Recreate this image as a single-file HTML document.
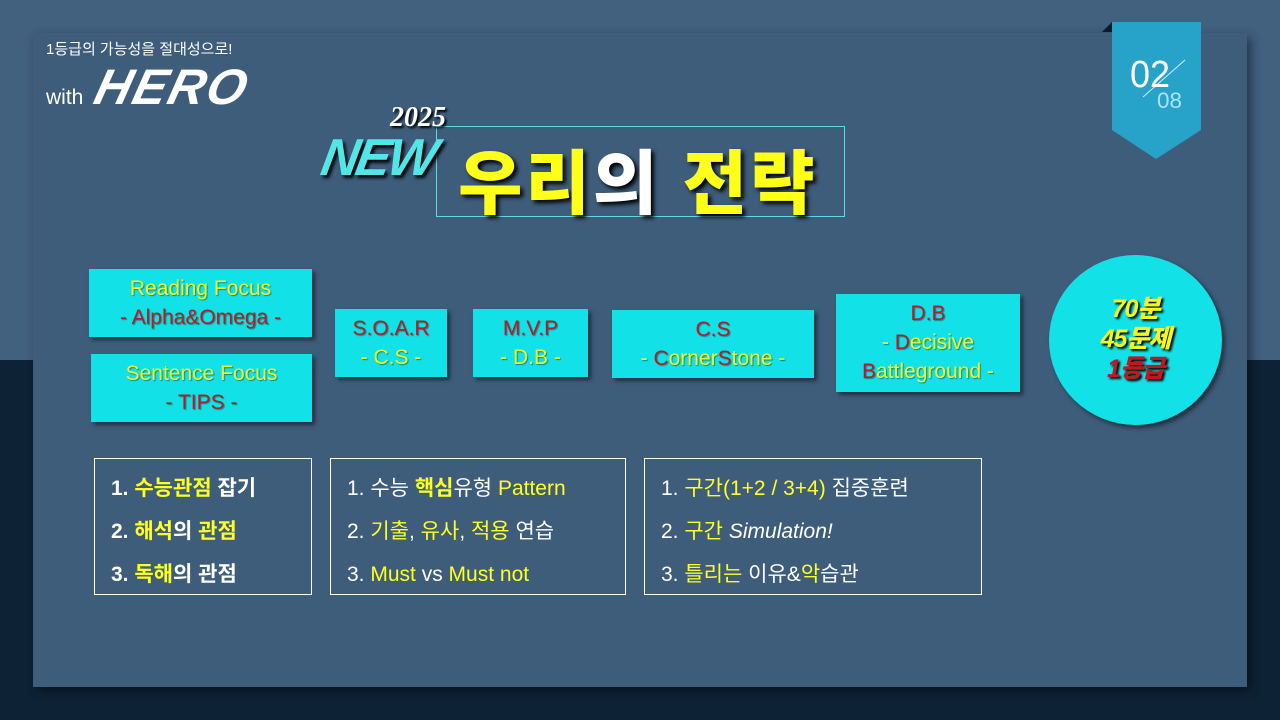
<!DOCTYPE html>
<html><head><meta charset="utf-8"><style>
*{margin:0;padding:0;box-sizing:border-box}
body{width:1280px;height:720px;overflow:hidden;position:relative;background:#0e2236;font-family:"Liberation Sans","Noto Sans CJK KR",sans-serif}
.top{position:absolute;left:0;top:0;width:1280px;height:360px;background:#42617f}
.panel{position:absolute;left:33px;top:33px;width:1214px;height:654px;background:#3e5d7b;box-shadow:4px 4px 10px rgba(0,0,0,.45)}
.a{position:absolute}
.box{position:absolute;background:#12e2e8;box-shadow:3px 3px 4px rgba(0,0,0,.5);text-align:center;font-size:21px;line-height:29px;text-shadow:1px 1px 1px rgba(0,0,0,.4)}
.y{color:#f7f720}.r{color:#c01820}
.list{position:absolute;border:1.5px solid #fff;color:#fff;font-size:21px;line-height:43px;padding:8px 0 0 16px}
.list span.y{color:#ffff22}
</style></head><body>
<div class="top"></div>
<div class="panel"></div>
<div class="a" style="left:46px;top:38px;color:#fff;font-size:15px">1등급의 가능성을 절대성으로!</div>
<div class="a" style="left:46px;top:86px;color:#fff;font-size:21px">with</div>
<div class="a" style="left:96px;top:58px;color:#fff;font-size:50px;font-weight:900;font-style:italic;letter-spacing:2px;transform:skewX(-14deg)">HERO</div>
<!-- badge -->
<svg class="a" style="left:1100px;top:20px" width="104" height="145">
<polygon points="2,12 12,2 12,12" fill="#0a1a28"/>
<polygon points="12,2 101,2 101,110 56,139 12,110" fill="#27a2c9"/>
<line x1="43" y1="77" x2="85" y2="40" stroke="#cfefff" stroke-width="1"/>
<text x="30" y="67" fill="#fff" font-family="Liberation Sans,sans-serif" font-size="38" textLength="40" lengthAdjust="spacingAndGlyphs">02</text>
<text x="57" y="88" fill="#a9e5f5" font-family="Liberation Sans,sans-serif" font-size="22" textLength="25" lengthAdjust="spacingAndGlyphs">08</text>
</svg>
<!-- title -->
<div class="a" style="left:436px;top:126px;width:409px;height:91px;border:1px solid #5fd8e8"></div>
<div class="a" style="left:390px;top:102px;color:#fff;font-family:'Liberation Serif',serif;font-style:italic;font-weight:bold;font-size:28px;text-shadow:2px 2px 2px #000">2025</div>
<div class="a" style="left:322px;top:128px;color:#52e6e8;font-style:italic;font-weight:bold;font-size:52px;letter-spacing:-3px;transform:skewX(-10deg);text-shadow:3px 3px 3px #000">NEW</div>
<div class="a" style="left:458px;top:128px;font-size:70px;font-weight:900;letter-spacing:3px;text-shadow:3px 3px 4px #000;color:#ffff1a">우리<span style="color:#fff">의</span> 전략</div>
<!-- boxes -->
<div class="box" style="left:89px;top:269px;width:223px;height:68px;padding-top:5px"><span class="y">Reading Focus</span><br><span class="r">- Alpha&amp;Omega -</span></div>
<div class="box" style="left:91px;top:354px;width:221px;height:68px;padding-top:5px"><span class="y">Sentence Focus</span><br><span class="r">- TIPS -</span></div>
<div class="box" style="left:335px;top:309px;width:112px;height:68px;padding-top:5px"><span class="r">S.O.A.R</span><br><span class="y">- C.S -</span></div>
<div class="box" style="left:473px;top:309px;width:115px;height:68px;padding-top:5px"><span class="r">M.V.P</span><br><span class="y">- D.B -</span></div>
<div class="box" style="left:612px;top:310px;width:202px;height:68px;padding-top:5px"><span class="r">C.S</span><br><span class="y">- <span class="r">C</span>orner<span class="r">S</span>tone -</span></div>
<div class="box" style="left:836px;top:294px;width:184px;height:98px;padding-top:5px"><span class="r">D.B</span><br><span class="y">- <span class="r">D</span>ecisive</span><br><span class="y"><span class="r">B</span>attleground -</span></div>
<div class="a" style="left:1049px;top:255px;width:173px;height:170px;border-radius:50%;background:#12e2e8;box-shadow:3px 3px 5px rgba(0,0,0,.5)"></div>
<div class="a" style="left:1049px;top:294px;width:173px;text-align:center;font-size:25px;line-height:30px;font-weight:900;font-style:italic;letter-spacing:-1px;text-shadow:2px 2px 2px #000"><span class="y">70분<br>45문제</span><br><span class="r">1등급</span></div>
<!-- lists -->
<div class="list" style="left:94px;top:458px;width:218px;height:137px;font-weight:bold">1. <span class="y">수능관점</span> 잡기<br>2. <span class="y">해석</span>의 <span class="y">관점</span><br>3. <span class="y">독해</span>의 관점</div>
<div class="list" style="left:330px;top:458px;width:296px;height:137px">1. 수능 <b class="y" style="color:#ff2">핵심</b>유형 <span class="y">Pattern</span><br>2. <span class="y">기출</span>, <span class="y">유사</span>, <span class="y">적용</span> 연습<br>3. <span class="y">Must</span> vs <span class="y">Must not</span></div>
<div class="list" style="left:644px;top:458px;width:338px;height:137px">1. <span class="y">구간(1+2 / 3+4)</span> 집중훈련<br>2. <span class="y">구간</span> <i>Simulation!</i><br>3. <span class="y">틀리는</span> 이유&amp;<span class="y">악</span>습관</div>
</body></html>
